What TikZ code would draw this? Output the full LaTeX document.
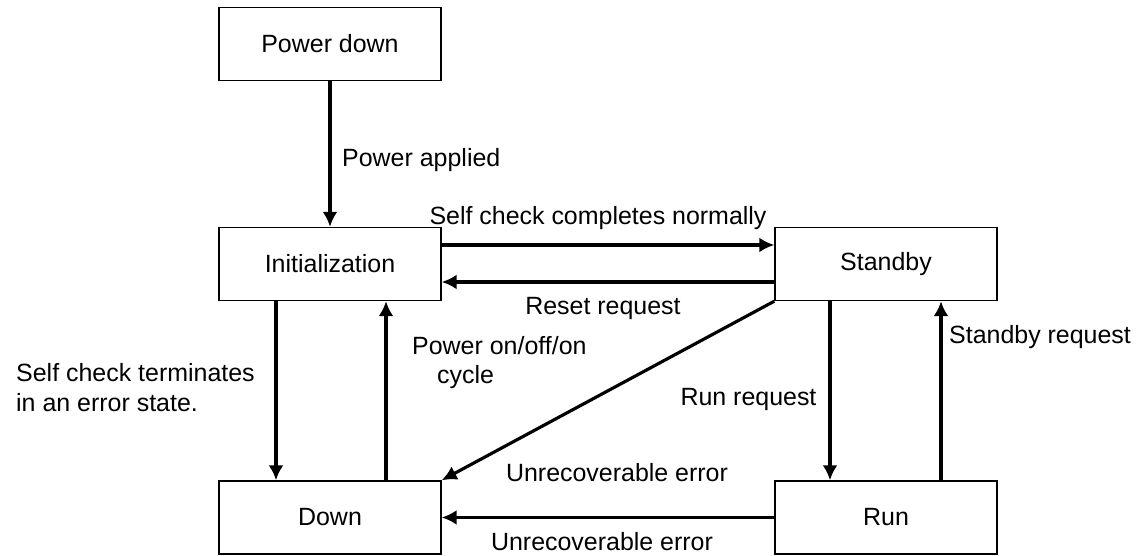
\documentclass[tikz,border=0pt]{standalone}
\usepackage{fontspec}
\setmainfont{Liberation Sans}
\usetikzlibrary{arrows.meta}
\tikzset{
  state/.style={draw,line width=0.8pt,minimum width=4.44cm,minimum height=1.46cm,inner sep=0pt},
  arr/.style={line width=1.8pt,-{Latex[length=0.3cm,width=0.3cm]}},
}
\begin{document}
\begin{tikzpicture}[font=\fontsize{14.2}{17}\selectfont]
\useasboundingbox (0,0) rectangle (22.74,11.12);
\node[state] (PD) at (6.6,10.24) {Power down};
\node[state] (Init) at (6.6,5.84) {Initialization};
\node[state] (Stby) at (17.72,5.84) {Standby};
\node[state] (Down) at (6.6,0.77) {Down};
\node[state] (Run) at (17.72,0.77) {Run};

\draw[arr] (PD) -- (Init);
\node[anchor=west] (lPA) at (6.72,7.92) {Power applied};

\draw[arr] ([yshift=0.38cm]Init.east) -- ([yshift=0.38cm]Stby.west);
\node (lSC) at (11.96,6.76) {Self check completes normally};
\draw[arr] ([yshift=-0.36cm]Stby.west) -- ([yshift=-0.36cm]Init.east);
\node (lRR) at (12.06,4.94) {Reset request};

\draw[arr] ([xshift=-1.08cm]Init.south) -- ([xshift=-1.08cm]Down.north);
\node[anchor=west,align=left] (lST) at (0.2,3.36) {Self check terminates\\in an error state.};
\draw[arr] ([xshift=1.12cm]Down.north) -- ([xshift=1.12cm]Init.south);
\node[anchor=west,align=left] (lPC) at (8.12,3.87) {Power on/off/on\\\hspace*{0.5cm}cycle};

\draw[arr] (Stby.south west) -- (Down.north east);
\node (lUE) at (12.34,1.66) {Unrecoverable error};

\draw[arr] ([xshift=-1.12cm]Stby.south) -- ([xshift=-1.12cm]Run.north);
\node (lRun) at (14.97,3.12) {Run request};
\draw[arr] ([xshift=1.1cm]Run.north) -- ([xshift=1.1cm]Stby.south);
\node[anchor=west] (lSR) at (18.86,4.38) {Standby request};

\draw[arr] (Run.west) -- (Down.east);
\node (lUE2) at (12.04,0.28) {Unrecoverable error};
\end{tikzpicture}
\end{document}
